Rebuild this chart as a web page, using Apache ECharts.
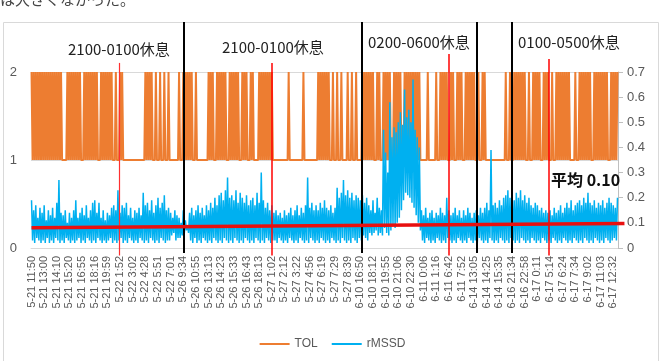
<!DOCTYPE html>
<html>
<head>
<meta charset="utf-8">
<script src="https://cdn.jsdelivr.net/npm/echarts@6/dist/echarts.min.js"></script>
<style>
  html, body { margin: 0; padding: 0; background: #fff; }
  #main { width: 665px; height: 361px; }
</style>
</head>
<body>
<div id="main"></div>
<script>
// tick labels on the category axis, one every 12 samples
var tickLabels = [
  '5-21 11:50', '5-21 13:00', '5-21 14:10', '5-21 15:20', '5-21 16:55', '5-21 18:16', '5-21 19:59',
  '5-22 1:52', '5-22 3:02', '5-22 4:28', '5-22 5:51', '5-22 7:01',
  '5-26 9:34', '5-26 10:55', '5-26 13:13', '5-26 14:23', '5-26 15:33', '5-26 16:43', '5-26 18:13',
  '5-27 1:02', '5-27 2:12', '5-27 3:22', '5-27 4:56', '5-27 6:19', '5-27 7:29', '5-27 8:39',
  '6-10 16:50', '6-10 18:12', '6-10 19:55', '6-10 21:06', '6-10 22:30',
  '6-11 0:06', '6-11 1:16', '6-11 6:42', '6-11 7:52',
  '6-14 13:05', '6-14 14:25', '6-14 15:35',
  '6-16 21:34', '6-16 22:58',
  '6-17 0:11', '6-17 5:14', '6-17 6:24', '6-17 7:34', '6-17 9:02', '6-17 11:03', '6-17 12:32'
];
var labelStep = 12;
var sampleCount = 557;

// TOL: sample ranges where it stays at 1 (elsewhere it flips between 1 and 2)
var tolOff = [
  [29, 30], [32, 33], [48, 49], [63, 64], [78, 79], [81, 83], [87, 88], [90, 107],
  [116, 117], [120, 121], [124, 125], [128, 129], [131, 132], [134, 135], [136, 139], [141, 142],
  [154, 155], [157, 158], [160, 167], [173, 174], [185, 186], [197, 198], [206, 207], [212, 214],
  [230, 243], [245, 257], [259, 271],
  [284, 285], [287, 288], [291, 293], [295, 298], [301, 302], [305, 307], [309, 310], [312, 313],
  [325, 326], [332, 333], [341, 342], [351, 353], [370, 372], [374, 375], [377, 378], [380, 383],
  [385, 386], [396, 397], [402, 403], [410, 411], [421, 422], [425, 426], [431, 449], [452, 453],
  [455, 456], [469, 470], [474, 475], [484, 485], [491, 492], [495, 496], [512, 514], [517, 518],
  [532, 533], [547, 548]
];

// rMSSD in hundredths, one value per sample
var rmssdPct = [
  19,3,15,2,17,4,12,3,16,2, 14,3,17,2,11,4,15,2,13,3, 16,2,12,4,18,3,27,2,14,3, 13,2,15,4,10,3,14,2,12,3,
  15,2,19,3,12,4,14,2,16,3, 13,2,17,4,12,3,15,2,18,3, 19,2,14,4,18,3,12,2,15,3, 11,2,14,3,13,4,16,2,17,3,
  15,2,23,3,14,4,17,2,16,3, 18,2,13,4,16,3,12,2,15,3, 14,2,16,4,13,3,22,2,17,3, 18,2,15,4,19,3,14,2,17,3,
  20,2,16,4,18,3,21,2,15,3, 16,3,14,5,12,6,15,3,13,4, 12,4,10,5,15,6,11,7,9,6, 14,3,16,2,13,4,15,2,17,3,
  14,2,16,4,13,3,17,2,15,3, 18,2,16,4,20,3,17,2,21,3, 22,2,19,4,23,3,28,2,20,3, 21,2,19,4,23,3,18,2,22,3,
  20,2,18,4,21,3,17,2,19,3, 20,2,17,4,22,3,18,2,30,3, 19,2,16,4,18,3,15,2,17,3, 14,3,15,2,13,4,14,3,12,2,
  15,3,13,2,14,4,16,3,13,2, 15,3,17,2,13,4,16,3,14,2, 17,3,28,2,16,4,18,3,15,2, 17,3,15,2,18,4,16,3,19,2,
  16,3,15,2,17,4,14,3,16,2, 24,3,20,2,22,4,27,3,21,2, 23,3,20,2,22,4,19,3,21,2, 20,4,19,3,21,5,18,4,20,3,
  17,6,15,5,19,6,14,7,20,5, 16,6,15,5,47,8,38,6,30,5, 58,7,44,9,48,8,46,10,50,12, 54,15,49,19,63,22,52,21,55,20,
  50,18,67,16,47,13,44,10,40,7, 15,3,13,2,16,4,12,3,14,2, 15,3,12,2,14,4,13,3,16,2, 14,3,13,2,20,4,15,3,13,2,
  14,3,16,2,13,4,15,3,12,2, 15,3,13,2,16,4,14,3,12,2, 14,3,15,2,13,4,16,3,14,2, 16,3,18,2,15,4,39,3,17,2,
  18,3,16,2,19,4,17,3,20,2, 21,3,23,2,20,4,22,3,19,2, 22,3,20,2,23,4,19,3,21,2, 18,3,20,2,17,4,16,3,18,2,
  17,3,15,2,16,4,14,3,15,2, 14,3,15,2,13,4,16,3,14,2, 15,3,17,2,14,4,16,3,18,2, 16,3,19,2,15,4,17,3,18,2,
  19,3,17,2,20,4,18,3,22,2, 18,3,17,2,19,4,16,3,18,2, 17,3,19,2,16,4,18,3,20,2, 18,3,17,4,16,3,20
];

// day boundaries (black) and rest markers (red), as sample index
var dayLines = [145, 314, 423, 456];
var restLines = [83, 228, 396, 491];
var restTops = [0.737, 0.737, 0.773, 0.753];
var avgLine = [0.080, 0.0975];
var restNotes = ['2100-0100休息', '2100-0100休息', '0200-0600休息', '0100-0500休息'];

var categories = [];
var tol = [];
for (var i = 0; i < sampleCount; i++) {
  categories.push(i % labelStep === 0 ? tickLabels[i / labelStep] : '');
  var off = tolOff.some(function (r) { return i >= r[0] && i <= r[1]; });
  tol.push(off ? 1 : (i % 2 === 0 ? 2 : 1));
}
var rmssd = rmssdPct.map(function (v) { return v / 100; });

// overlay axis runs a bit past the plot on the right
var overlayCount = sampleCount + 7;
var overlayCats = [];
for (var j = 0; j < overlayCount; j++) overlayCats.push('');

var markLines = [];
dayLines.forEach(function (c) {
  markLines.push([{ coord: [c, 0.9], lineStyle: { color: '#000', width: 2, type: 'solid' } }, { coord: [c, -0.02] }]);
});
restLines.forEach(function (c, k) {
  markLines.push([{ coord: [c, restTops[k]], lineStyle: { color: k === 0 ? '#ff3030' : '#ff0000', width: k === 0 ? 1.2 : 1.5, type: 'solid' } }, { coord: [c, -0.03] }]);
});
markLines.push([{ coord: [0, avgLine[0]], lineStyle: { color: '#e81010', width: 3.5, type: 'solid' } }, { coord: [overlayCount - 1, avgLine[1]] }]);

var chart = echarts.init(document.getElementById('main'), null, { renderer: 'canvas' });
var gray = '#595959';
var option = {
  animation: false,
  backgroundColor: '#fff',
  color: ['#ed7d31', '#00b0f0'],
  grid: [
    { left: 31, right: 47, top: 72, bottom: 113 },
    { left: 31, right: 40, top: 22, bottom: 103 }
  ],
  legend: {
    data: ['TOL', 'rMSSD'],
    left: 'center',
    top: 333,
    icon: 'rect',
    itemWidth: 30,
    itemHeight: 2,
    itemGap: 14,
    textStyle: { color: gray, fontSize: 12, fontFamily: 'Liberation Sans' }
  },
  xAxis: [{
    type: 'category',
    gridIndex: 0,
    data: categories,
    boundaryGap: true,
    axisLine: { lineStyle: { color: '#d9d9d9' } },
    axisTick: { show: false },
    axisLabel: {
      rotate: 90,
      interval: function (idx) { return idx % labelStep === 0; },
      color: gray,
      fontSize: 11,
      fontFamily: 'Liberation Sans',
      margin: 8
    }
  }, {
    type: 'category',
    gridIndex: 1,
    data: overlayCats,
    boundaryGap: true,
    show: false
  }],
  yAxis: [{
    type: 'value',
    gridIndex: 0,
    min: 0, max: 2, interval: 1,
    axisLine: { show: false },
    axisTick: { show: false },
    axisLabel: { color: gray, fontSize: 13, fontFamily: 'Liberation Sans', margin: 14 },
    splitLine: { lineStyle: { color: '#d9d9d9' } }
  }, {
    type: 'value',
    gridIndex: 0,
    position: 'right',
    min: 0, max: 0.7, interval: 0.1,
    axisLine: { show: true, lineStyle: { color: '#bfbfbf' } },
    axisTick: { show: true, length: 5, lineStyle: { color: '#bfbfbf' } },
    axisLabel: {
      color: gray, fontSize: 13, fontFamily: 'Liberation Sans', margin: 9,
      formatter: function (v) { return v === 0 ? '0' : v.toFixed(1); }
    },
    splitLine: { show: false }
  }, {
    type: 'value',
    gridIndex: 1,
    min: -0.04, max: 0.9,
    show: false,
    splitLine: { show: false }
  }],
  series: [{
    name: 'TOL',
    type: 'line',
    xAxisIndex: 0, yAxisIndex: 0,
    data: tol,
    symbol: 'none',
    lineStyle: { width: 2, color: '#ed7d31' },
    z: 2
  }, {
    name: 'rMSSD',
    type: 'line',
    xAxisIndex: 0, yAxisIndex: 1,
    data: rmssd,
    symbol: 'none',
    lineStyle: { width: 1.5, color: '#00b0f0' },
    z: 3
  }, {
    name: 'marks',
    type: 'line',
    xAxisIndex: 1, yAxisIndex: 2,
    data: [],
    symbol: 'none',
    z: 5,
    markLine: {
      silent: true,
      symbol: ['none', 'none'],
      label: { show: false },
      emphasis: { disabled: true },
      data: markLines
    }
  }],
  graphic: [
    { type: 'text', left: 0, top: -8, style: { text: 'は大きくなかった。', fontSize: 15, fill: '#444', fontFamily: 'Noto Sans CJK JP' } },
    { type: 'rect', shape: { x: 3.5, y: 22.5, width: 655, height: 360 }, style: { fill: 'none', stroke: '#d9d9d9', lineWidth: 1 }, z: -10 },
    { type: 'text', left: 68, top: 42, style: { text: restNotes[0], fontSize: 15, fill: '#222', fontFamily: 'Noto Sans CJK JP' }, z: 10 },
    { type: 'text', left: 222, top: 40, style: { text: restNotes[1], fontSize: 15, fill: '#222', fontFamily: 'Noto Sans CJK JP' }, z: 10 },
    { type: 'text', left: 368, top: 35, style: { text: restNotes[2], fontSize: 15, fill: '#222', fontFamily: 'Noto Sans CJK JP' }, z: 10 },
    { type: 'text', left: 518, top: 35, style: { text: restNotes[3], fontSize: 15, fill: '#222', fontFamily: 'Noto Sans CJK JP' }, z: 10 },
    { type: 'text', left: 551, top: 172, style: { text: '平均 0.10', fontSize: 16, fontWeight: 'bold', fill: '#111', fontFamily: 'Noto Sans CJK JP' }, z: 10 }
  ]
};
chart.setOption(option);
</script>
</body>
</html>
